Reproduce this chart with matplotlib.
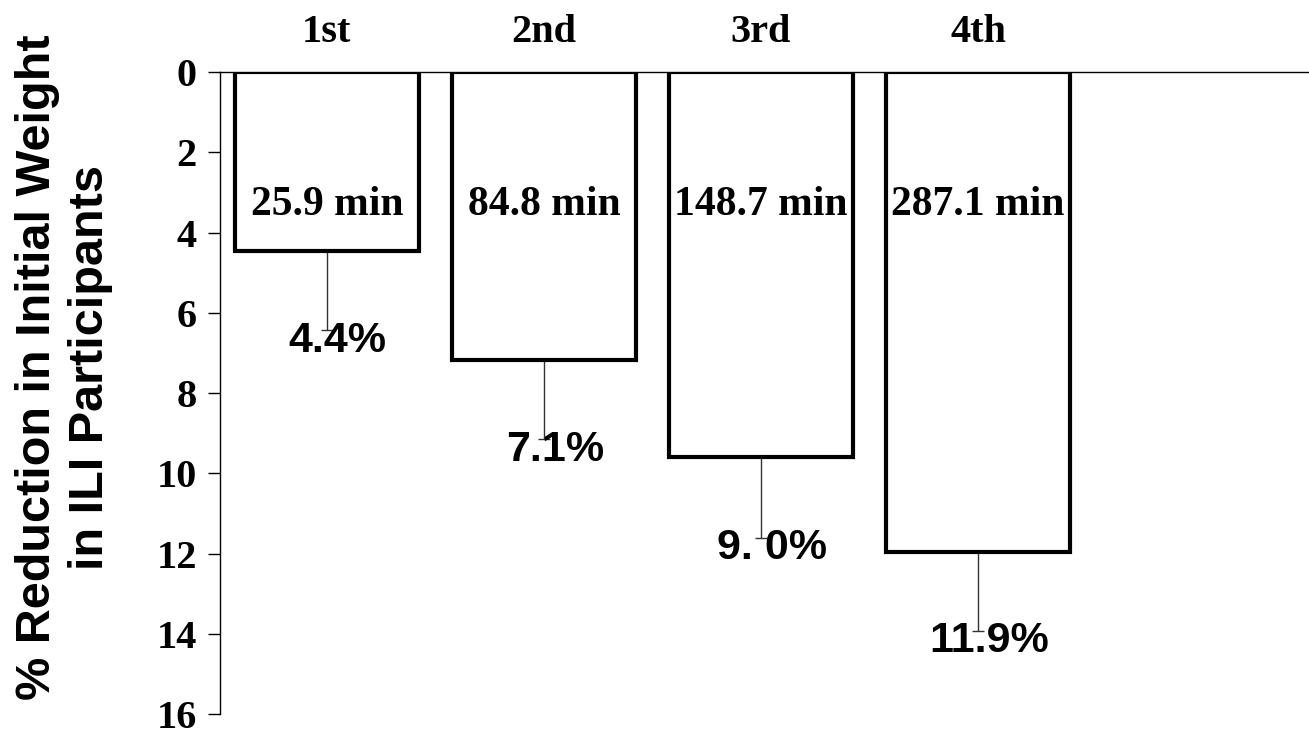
import matplotlib
matplotlib.use('Agg')
import matplotlib.pyplot as plt

quartiles = ['1st', '2nd', '3rd', '4th']
reduction = [4.45, 7.18, 9.58, 11.96]
err_down = [1.98, 1.97, 2.02, 1.96]
minutes = ['25.9 min', '84.8 min', '148.7 min', '287.1 min']
pct_labels = ['4.4%', '7.1%', '9. 0%', '11.9%']

SERIF = 'Liberation Serif'
SANS = 'Liberation Sans'

fig = plt.figure(figsize=(13.09, 7.40), dpi=100)
ax = fig.add_axes([0.168, 0.035, 0.832, 0.8675])

x = list(range(len(quartiles)))
ax.bar(x, reduction, width=0.85, color='white', edgecolor='black',
       linewidth=3, zorder=3)
ax.errorbar(x, reduction, yerr=[[0] * 4, err_down], fmt='none',
            ecolor='#333333', elinewidth=1, capsize=4, capthick=1, zorder=2)

for i in x:
    ax.text(i, 3.3, minutes[i], ha='center', va='center', fontsize=30,
            fontweight='bold', family=SERIF, zorder=4)
    ax.text(i + 0.05, reduction[i] + err_down[i] + 0.27, pct_labels[i],
            ha='center', va='center', fontsize=31, fontweight='bold',
            family=SANS, zorder=4)

ax.set_ylim(16, 0)
ax.set_xlim(-0.493, 4.525)
ax.set_yticks(range(0, 17, 2))
ax.tick_params(axis='y', direction='out', length=8.5, width=1, pad=8,
               labelsize=29)
for lab in ax.get_yticklabels():
    lab.set_fontfamily(SERIF)
    lab.set_fontweight('bold')

ax.xaxis.tick_top()
ax.set_xticks(x)
ax.set_xticklabels(quartiles, fontsize=29, fontweight='bold', family=SERIF)
ax.tick_params(axis='x', length=0, pad=15)

ax.spines['right'].set_visible(False)
ax.spines['bottom'].set_visible(False)
ax.spines['top'].set_linewidth(1)
ax.spines['left'].set_linewidth(1)

fig.text(64 / 1309, 1 - 367 / 740,
         '% Reduction in Initial Weight\nin ILI Participants',
         rotation=90, ha='center', va='center', fontsize=35,
         fontweight='bold', family=SANS, linespacing=1.25,
         multialignment='center')

fig.savefig('out.png', dpi=100)
